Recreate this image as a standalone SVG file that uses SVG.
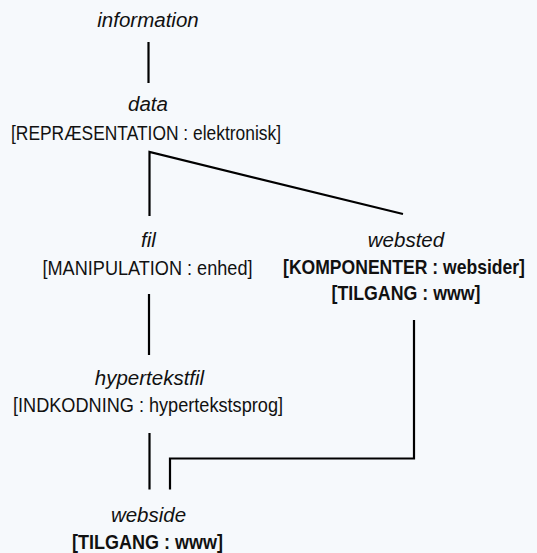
<svg xmlns="http://www.w3.org/2000/svg" width="537" height="553" viewBox="0 0 537 553">
<style>
text{font-family:"Liberation Sans",Arial,sans-serif;fill:#111;text-anchor:middle}
.t{font-style:italic;font-size:20.5px}
.r{font-size:20.5px}
.b{font-size:20.5px;font-weight:bold}
.c{fill:none;stroke:#000;stroke-width:2.2;stroke-linejoin:miter}
</style>
<rect width="537" height="553" fill="#f6f9fc"/>
<g id="connectors">
<path class="c" d="M148.5,42 V83"/>
<path class="c" d="M149.5,216 V152 L403,214"/>
<path class="c" d="M149,294 V355"/>
<path class="c" d="M414,320 V458.5 H170 V489.5"/>
<path class="c" d="M149.5,433 V489.5"/>
</g>
<g id="information"><text class="t" x="148" y="26.5">information</text></g>
<g id="data"><text class="t" x="148" y="110.5">data</text>
<text class="r" x="146" y="140" textLength="270" lengthAdjust="spacingAndGlyphs">[REPRÆSENTATION : elektronisk]</text></g>
<g id="fil"><text class="t" x="148.5" y="247">fil</text>
<text class="r" x="147.5" y="274.5" textLength="210" lengthAdjust="spacingAndGlyphs">[MANIPULATION : enhed]</text></g>
<g id="websted"><text class="t" x="406" y="247">websted</text>
<text class="b" transform="translate(404,273.5) scale(0.857,1)" x="0" y="0">[KOMPONENTER : websider]</text>
<text class="b" x="406" y="300" textLength="149" lengthAdjust="spacingAndGlyphs">[TILGANG : www]</text></g>
<g id="hypertekstfil"><text class="t" x="149.5" y="385">hypertekstfil</text>
<text class="r" x="148" y="411.5" textLength="270" lengthAdjust="spacingAndGlyphs">[INDKODNING : hypertekstsprog]</text></g>
<g id="webside"><text class="t" x="148.5" y="521.5">webside</text>
<text class="b" x="147.5" y="549" textLength="151" lengthAdjust="spacingAndGlyphs">[TILGANG : www]</text></g>
</svg>
